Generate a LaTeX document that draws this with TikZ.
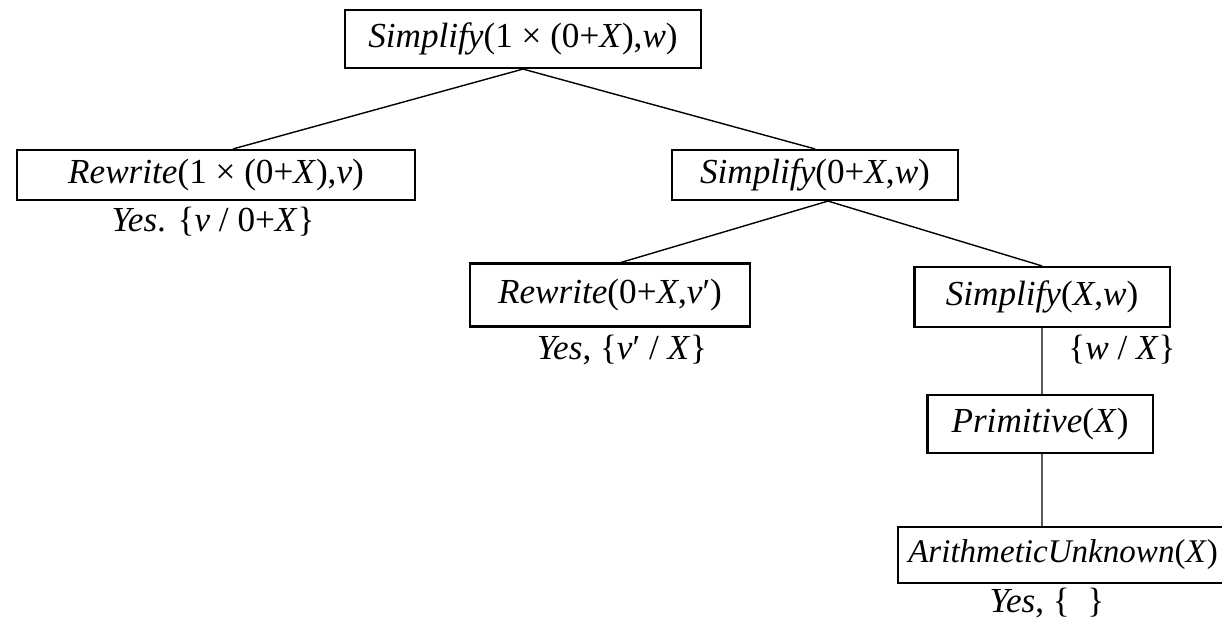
\documentclass[tikz,border=0pt]{standalone}
\usepackage{fontspec}
\setmainfont{Liberation Serif}
\usepackage{tikz}

\newcommand{\fn}[1]{\textit{#1}}

\begin{document}
\begin{tikzpicture}[x=0.01cm,y=-0.01cm,
		goal/.style={draw,line width=0.6pt,inner sep=0pt,font=\fontsize{10}{12}\selectfont},
		ans/.style={inner sep=1pt,font=\fontsize{10}{12}\selectfont}]
		\useasboundingbox (0,0) rectangle (1222,627);
		% goals
		\node[goal,minimum width=3.55cm,minimum height=0.58cm] (root) at (523,39) {\fn{Simplify}(1 × (0+\fn{X}),\fn{w})};
		\node[goal,minimum width=3.98cm,minimum height=0.50cm] (rw1) at (216,175) {\fn{Rewrite}(1 × (0+\fn{X}),\fn{v})};
		\node[goal,minimum width=2.86cm,minimum height=0.50cm] (s2) at (815,175) {\fn{Simplify}(0+\fn{X},\fn{w})};
		\node[goal,minimum width=2.80cm,minimum height=0.63cm] (rw2) at (610,295) {\fn{Rewrite}(0+\fn{X},\fn{v}′)};
		\node[goal,minimum width=2.55cm,minimum height=0.60cm] (s3) at (1042,297) {\fn{Simplify}(\fn{X},\fn{w})};
		\node[goal,minimum width=2.25cm,minimum height=0.58cm] (prim) at (1040,424) {\fn{Primitive}(\fn{X})};
		\node[goal,minimum width=3.30cm,minimum height=0.56cm,font=\fontsize{9.4}{11}\selectfont] (arith) at (1063,555) {\fn{ArithmeticUnknown}(\fn{X})};
		% answers
		\node[ans] (y1) at (213,222) {\fn{Yes}. \{\fn{v} / 0+\fn{X}\}};
		\node[ans] (y2) at (622,350) {\fn{Yes}, \{\fn{v}′ / \fn{X}\}};
		\node[ans] (b3) at (1122,350) {\{\fn{w} / \fn{X}\}};
		\node[ans] (y4) at (1047,603) {\fn{Yes}, \{\ \ \}};
		% branches
		\draw (root.south) -- ([xshift=0.17cm]rw1.north);
		\draw (root.south) -- (s2.north);
		\draw ([xshift=0.13cm]s2.south) -- ([xshift=0.11cm]rw2.north);
		\draw ([xshift=0.13cm]s2.south) -- (s3.north);
		\draw (s3.south) -- ([xshift=0.02cm]prim.north);
		\draw ([xshift=0.02cm]prim.south) -- ([xshift=-0.21cm]arith.north);
\end{tikzpicture}
\end{document}
